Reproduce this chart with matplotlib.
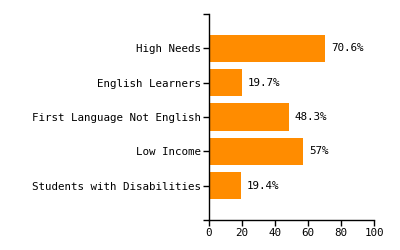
import matplotlib
matplotlib.use("Agg")
import matplotlib.pyplot as plt

categories = ["High Needs", "English Learners", "First Language Not English",
              "Low Income", "Students with Disabilities"]
values = [70.6, 19.7, 48.3, 57, 19.4]
value_labels = ["70.6%", "19.7%", "48.3%", "57%", "19.4%"]
xticks = [0, 20, 40, 60, 80, 100]

plt.rcParams['font.family'] = ['DejaVu Sans Mono']
fs = 7.8

fig = plt.figure(figsize=(4, 2.5), dpi=100)
ax = fig.add_axes([209/400, 1 - 220/250, (374 - 209)/400, (220 - 14)/250])

pos = list(range(len(categories)))
ax.barh(pos, values, height=0.8, color="#FF8C00")
for p, v, lab in zip(pos, values, value_labels):
    ax.text(v + 3.6, p, lab, va="center", ha="left", fontsize=fs, color="black")

ax.set_ylim(len(categories), -1)
ax.set_xlim(0, 100)
ax.set_yticks(pos)
ax.set_yticklabels(categories, fontsize=fs)
ax.set_yticks([-1, len(categories)], minor=True)
ax.set_xticks(xticks)
ax.set_xticklabels([str(t) for t in xticks], fontsize=fs)

for s in ["top", "right"]:
    ax.spines[s].set_visible(False)
for s in ["left", "bottom"]:
    ax.spines[s].set_linewidth(1)
    ax.spines[s].set_color("black")
ax.tick_params(axis="y", which="both", length=4, width=1, pad=2)
ax.tick_params(axis="x", length=4, width=1, pad=2)

fig.savefig("out.png", dpi=100)
